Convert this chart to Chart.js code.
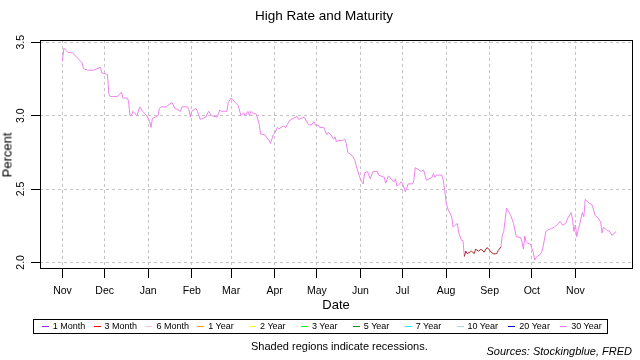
<!DOCTYPE html>
<html><head><meta charset="utf-8">
<script src="https://cdn.jsdelivr.net/npm/chart.js@4.4.1/dist/chart.umd.min.js"></script>
<style>
html,body{margin:0;padding:0;background:#fff;}
#wrap{position:relative;width:640px;height:360px;overflow:hidden;font-family:'Liberation Sans',Arial,sans-serif;color:#000;}
#c{position:absolute;left:0;top:0;}
.t{position:absolute;white-space:nowrap;line-height:1;font-weight:normal;}
#legend{position:absolute;left:33px;top:319px;width:573px;height:13px;border:1px solid #000;}
.li{position:absolute;top:0;height:13px;font-size:9px;line-height:13px;white-space:nowrap;}
.sw{display:inline-block;width:7px;height:1px;vertical-align:middle;margin-right:4px;}
</style></head>
<body>
<div id="wrap">
<canvas id="c" width="640" height="360"></canvas>
<div class="t" style="left:255px;top:9px;font-size:13.5px">High Rate and Maturity</div>
<div class="t" style="left:7px;top:155px;font-size:13px;transform:translate(-50%,-50%) rotate(-90deg)">Percent</div>
<div class="t" style="left:336px;top:298px;font-size:13px;transform:translateX(-50%)">Date</div>
<div id="legend"></div>
<div class="t" style="left:251px;top:340.5px;font-size:11px">Shaded regions indicate recessions.</div>
<div class="t" style="right:8px;top:345.5px;font-size:11px;font-style:italic">Sources: Stockingblue, FRED</div>
</div>
<script>
// ---- data ----
const dates = [
'2018-11-01','2018-11-02','2018-11-05','2018-11-08','2018-11-12','2018-11-15','2018-11-16','2018-11-19','2018-11-23','2018-11-28',
'2018-11-29','2018-11-30','2018-12-03','2018-12-04','2018-12-05','2018-12-10','2018-12-13','2018-12-14','2018-12-17','2018-12-18',
'2018-12-19','2018-12-20','2018-12-21','2018-12-24','2018-12-26','2018-12-28','2018-12-31','2019-01-02','2019-01-03','2019-01-04',
'2019-01-08','2019-01-09','2019-01-10','2019-01-14','2019-01-15','2019-01-18','2019-01-20','2019-01-24','2019-01-25','2019-01-29',
'2019-01-30','2019-01-31','2019-02-01','2019-02-04','2019-02-05','2019-02-07','2019-02-11','2019-02-13','2019-02-15','2019-02-19',
'2019-02-21','2019-02-22','2019-02-26','2019-02-27','2019-03-01','2019-03-04','2019-03-06','2019-03-08','2019-03-10','2019-03-11',
'2019-03-13','2019-03-14','2019-03-15','2019-03-16','2019-03-19','2019-03-21','2019-03-22','2019-03-25','2019-03-28','2019-03-29',
'2019-03-31','2019-04-01','2019-04-03','2019-04-04','2019-04-07','2019-04-09','2019-04-10','2019-04-12','2019-04-14','2019-04-17',
'2019-04-18','2019-04-22','2019-04-25','2019-04-27','2019-04-29','2019-04-30','2019-05-02','2019-05-03','2019-05-06','2019-05-08',
'2019-05-09','2019-05-11','2019-05-13','2019-05-14','2019-05-15','2019-05-16','2019-05-19','2019-05-21','2019-05-22','2019-05-23',
'2019-05-26','2019-05-28','2019-05-29','2019-05-31','2019-06-01','2019-06-02','2019-06-03','2019-06-04','2019-06-06','2019-06-08',
'2019-06-10','2019-06-13','2019-06-14','2019-06-18','2019-06-19','2019-06-21','2019-06-23','2019-06-25','2019-06-26','2019-06-27',
'2019-06-29','2019-06-30','2019-07-01','2019-07-03','2019-07-05','2019-07-08','2019-07-09','2019-07-10','2019-07-12','2019-07-14',
'2019-07-16','2019-07-18','2019-07-20','2019-07-22','2019-07-23','2019-07-24','2019-07-25','2019-07-29','2019-07-30','2019-07-31',
'2019-08-01','2019-08-02','2019-08-05','2019-08-06','2019-08-07','2019-08-09','2019-08-10','2019-08-12','2019-08-13','2019-08-14',
'2019-08-15','2019-08-16','2019-08-18','2019-08-19','2019-08-21','2019-08-22','2019-08-24','2019-08-26','2019-08-28','2019-08-30',
'2019-08-31','2019-09-02','2019-09-04','2019-09-06','2019-09-07','2019-09-09','2019-09-10','2019-09-11','2019-09-12','2019-09-13',
'2019-09-16','2019-09-18','2019-09-19','2019-09-20','2019-09-23','2019-09-24','2019-09-25','2019-09-26','2019-09-27','2019-09-28',
'2019-09-30','2019-10-02','2019-10-03','2019-10-04','2019-10-07','2019-10-08','2019-10-09','2019-10-11','2019-10-13','2019-10-15',
'2019-10-17','2019-10-20','2019-10-21','2019-10-23','2019-10-25','2019-10-27','2019-10-29','2019-10-30','2019-10-31','2019-11-01',
'2019-11-02','2019-11-03','2019-11-04','2019-11-05','2019-11-06','2019-11-07','2019-11-08','2019-11-10','2019-11-13','2019-11-15',
'2019-11-17','2019-11-19','2019-11-20','2019-11-21','2019-11-24','2019-11-25','2019-11-27','2019-11-30'
];
const highRate = [
3.37,3.46,3.43,3.43,3.39,3.36,3.32,3.31,3.31,3.33,
3.29,3.29,3.28,3.15,3.13,3.13,3.16,3.12,3.12,3.10,
3.00,3.00,3.03,3.00,3.06,3.03,3.00,2.96,2.92,2.98,
3.00,3.05,3.06,3.06,3.07,3.09,3.05,3.03,3.06,3.06,
3.04,2.99,3.03,3.05,3.03,2.975,2.99,3.03,3.00,2.99,
3.04,3.03,3.03,3.09,3.12,3.09,3.07,3.00,3.02,3.00,
3.03,3.00,3.03,3.02,3.01,2.94,2.875,2.87,2.83,2.81,
2.87,2.88,2.92,2.91,2.93,2.92,2.94,2.97,2.98,2.995,
2.975,2.99,2.94,2.935,2.96,2.935,2.935,2.92,2.92,2.87,
2.885,2.87,2.84,2.855,2.82,2.83,2.83,2.84,2.81,2.75,
2.73,2.70,2.66,2.595,2.57,2.55,2.535,2.61,2.62,2.57,
2.62,2.62,2.595,2.58,2.54,2.59,2.565,2.55,2.57,2.52,
2.535,2.55,2.54,2.48,2.535,2.535,2.555,2.645,2.635,2.62,
2.63,2.56,2.57,2.58,2.605,2.58,2.595,2.595,2.56,2.49,
2.41,2.37,2.31,2.24,2.25,2.265,2.20,2.15,2.15,2.04,
2.077,2.06,2.07,2.077,2.06,2.09,2.077,2.09,2.07,2.10,
2.095,2.07,2.057,2.06,2.08,2.106,2.186,2.21,2.29,2.37,
2.32,2.265,2.22,2.175,2.17,2.14,2.09,2.18,2.14,2.13,
2.125,2.07,2.016,2.034,2.055,2.07,2.106,2.21,2.225,2.23,
2.24,2.265,2.28,2.255,2.265,2.31,2.34,2.29,2.21,2.255,
2.175,2.225,2.255,2.30,2.34,2.31,2.43,2.41,2.39,2.32,
2.305,2.275,2.20,2.24,2.215,2.215,2.185,2.21
];
// period when a short maturity held the highest rate
const shortLeadPeriods = [['2019-08-15','2019-09-09']];
const legendLabels = ['1 Month','3 Month','6 Month','1 Year','2 Year','3 Year','5 Year','7 Year','10 Year','20 Year','30 Year'];
const tickDates = ['2018-11-01','2018-12-01','2019-01-01','2019-02-01','2019-03-01','2019-04-01','2019-05-01','2019-06-01','2019-07-01','2019-08-01','2019-09-01','2019-10-01','2019-11-01'];
const tickLabels = ['Nov','Dec','Jan','Feb','Mar','Apr','May','Jun','Jul','Aug','Sep','Oct','Nov'];
const yTicks = [2.0, 2.5, 3.0, 3.5];
const yTickLabels = ['2.0','2.5','3.0','3.5'];
const xRange = ['2018-10-16','2019-12-12'];
const yRange = [1.955, 3.5157];

// ---- styles ----
const legendColors = {'1 Month':'#A020F0','3 Month':'#FF0000','6 Month':'#FFC0CB','1 Year':'#FFA500','2 Year':'#FFFF00','3 Year':'#00FF00','5 Year':'#228B22','7 Year':'#00FFFF','10 Year':'#ADD8E6','20 Year':'#0000CD','30 Year':'#EE82EE'};
const lineColors = {'30 Year':'#EE82EE','short':'#A52A2A'};
const FONT = 'Liberation Sans';
const GRID = '#c4c4c4';

const dayNum = s => Date.UTC(+s.slice(0,4), +s.slice(5,7)-1, +s.slice(8,10)) / 864e5;
const leader = dates.map(d => shortLeadPeriods.some(p => d >= p[0] && d <= p[1]) ? 'short' : '30 Year');

// legend (HTML)
const lg = document.getElementById('legend');
legendLabels.forEach((lab, i) => {
  const el = document.createElement('div');
  el.className = 'li';
  el.style.left = (7.7 + i * 51.85) + 'px';
  const sw = document.createElement('span');
  sw.className = 'sw';
  sw.style.background = legendColors[lab];
  el.appendChild(sw);
  el.appendChild(document.createTextNode(lab));
  lg.appendChild(el);
});

const frame = {
  id: 'frame',
  afterDraw(chart) {
    const {ctx, chartArea: a, scales} = chart;
    ctx.save();
    ctx.setLineDash([]);
    ctx.strokeStyle = '#000';
    ctx.lineWidth = 1;
    ctx.strokeRect(a.left + 0.5, a.top + 0.5, a.right - a.left - 1, a.bottom - a.top - 1);
    ctx.beginPath();
    scales.x.ticks.forEach(t => {
      const px = Math.round(scales.x.getPixelForValue(t.value) - 0.5) + 0.5;
      ctx.moveTo(px, a.bottom); ctx.lineTo(px, a.bottom + 9);
    });
    scales.y.ticks.forEach(t => {
      const py = Math.round(scales.y.getPixelForValue(t.value) - 0.5) + 0.5;
      ctx.moveTo(a.left - 9, py); ctx.lineTo(a.left, py);
    });
    ctx.stroke();
    ctx.fillStyle = '#000';
    ctx.font = '10.5px "' + FONT + '"';
    ctx.textAlign = 'center';
    ctx.textBaseline = 'middle';
    scales.y.ticks.forEach((t, i) => {
      const py = scales.y.getPixelForValue(t.value);
      ctx.save();
      ctx.translate(21, py);
      ctx.rotate(-Math.PI / 2);
      ctx.fillText(yTickLabels[i], 0, 0);
      ctx.restore();
    });
    ctx.restore();
  }
};

new Chart(document.getElementById('c'), {
  type: 'line',
  data: {
    datasets: [{
      label: 'High Rate',
      data: dates.map((d, i) => ({x: dayNum(d), y: highRate[i]})),
      borderColor: lineColors['30 Year'],
      borderWidth: 1,
      pointRadius: 0,
      fill: false,
      tension: 0,
      segment: { borderColor: c => lineColors[leader[c.p1DataIndex]] }
    }]
  },
  options: {
    responsive: false,
    animation: false,
    devicePixelRatio: 1,
    layout: { padding: { left: 0, right: 7, top: 40, bottom: 0 } },
    plugins: { legend: { display: false }, title: { display: false }, tooltip: { enabled: false } },
    scales: {
      x: {
        type: 'linear',
        min: dayNum(xRange[0]),
        max: dayNum(xRange[1]),
        afterBuildTicks: s => { s.ticks = tickDates.map(d => ({value: dayNum(d)})); },
        afterFit: s => { s.height = 91; },
        grid: { color: GRID, lineWidth: 1, drawTicks: false },
        border: { display: false, dash: [3, 3] },
        ticks: {
          autoSkip: false, maxRotation: 0, minRotation: 0, padding: 16,
          color: '#000', font: { family: FONT, size: 10.5 },
          callback: (v, i) => tickLabels[i]
        }
      },
      y: {
        min: yRange[0],
        max: yRange[1],
        afterBuildTicks: s => { s.ticks = yTicks.map(v => ({value: v})); },
        afterFit: s => { s.width = 40; },
        grid: { color: GRID, lineWidth: 1, drawTicks: false },
        border: { display: false, dash: [3, 3] },
        ticks: { display: false }
      }
    }
  },
  plugins: [frame]
});
</script>
</body></html>
